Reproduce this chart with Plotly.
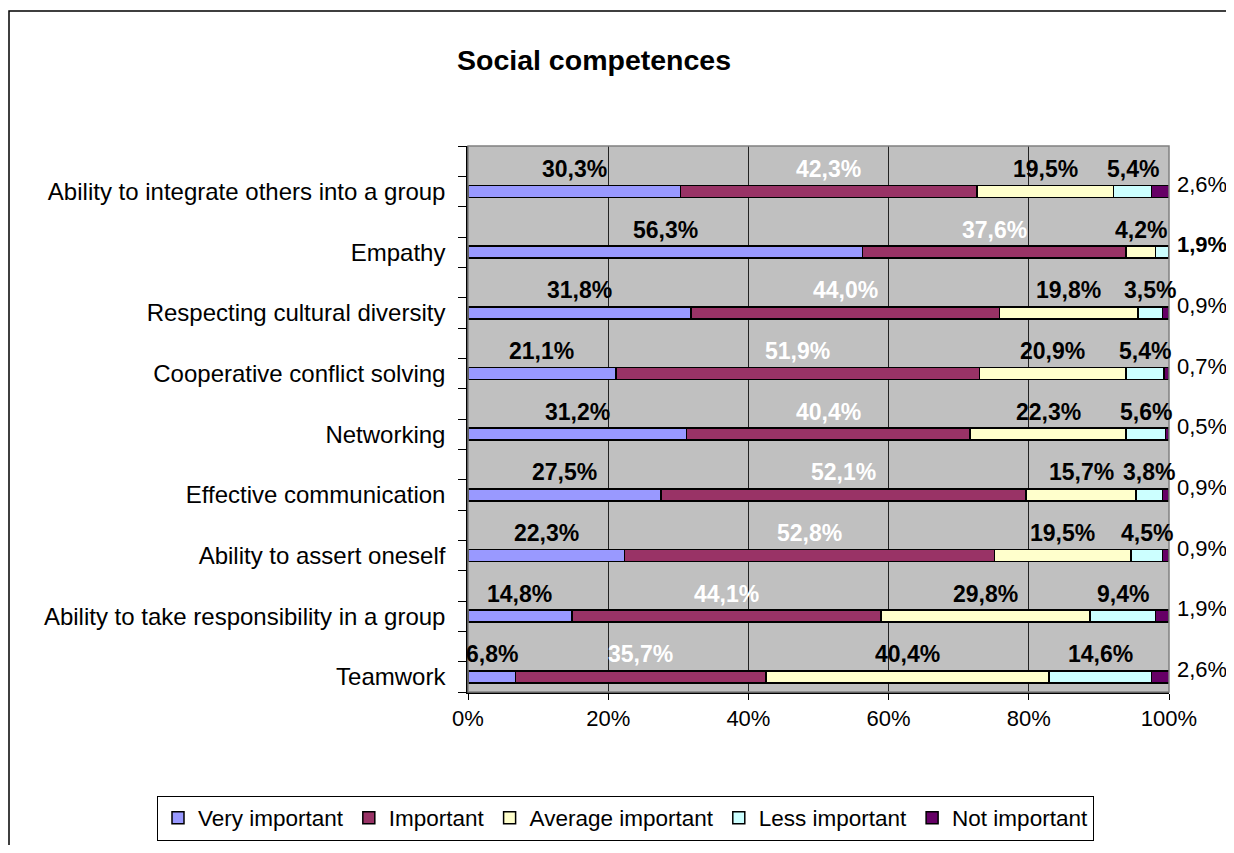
import plotly.graph_objects as go

# data, top row first
categories = [
    "Ability to integrate others into a group",
    "Empathy",
    "Respecting cultural diversity",
    "Cooperative conflict solving",
    "Networking",
    "Effective communication",
    "Ability to assert oneself",
    "Ability to take responsibility in a group",
    "Teamwork",
]
very_important = [30.3, 56.3, 31.8, 21.1, 31.2, 27.5, 22.3, 14.8, 6.8]
important = [42.3, 37.6, 44.0, 51.9, 40.4, 52.1, 52.8, 44.1, 35.7]
average_important = [19.5, 4.2, 19.8, 20.9, 22.3, 15.7, 19.5, 29.8, 40.4]
less_important = [5.4, 1.9, 3.5, 5.4, 5.6, 3.8, 4.5, 9.4, 14.6]
not_important = [2.6, 0.0, 0.9, 0.7, 0.5, 0.9, 0.9, 1.9, 2.6]

series_names = [
    "Very important",
    "Important",
    "Average important",
    "Less important",
    "Not important",
]
series_values = [
    very_important,
    important,
    average_important,
    less_important,
    not_important,
]
series_colors = ["#9999FF", "#993366", "#FFFFCC", "#CCFFFF", "#660066"]
label_colors = ["black", "white", "black", "black", "black"]
x_ticks = [0, 20, 40, 60, 80, 100]

FONT = "Arial, Liberation Sans, sans-serif"

# the page body adds an 8px margin, so the figure is drawn 8px in
# and kept small enough not to overflow the window
OFF = 8
W, H = 1234 - 2 * OFF, 853 - 2 * OFF
# plot area in screen pixels: x 468..1169, y 146..692
L, T = 468 - OFF, 146 - OFF
PW, PH = 701, 546
R, B = W - L - PW, H - T - PH

positions = list(range(len(categories)))


def px_to_paper_x(px):
    return (px - OFF - L) / PW


def px_to_paper_y(py):
    return (T + PH - (py - OFF)) / PH


def fmt(v):
    return f"{v:.1f}%".replace(".", ",")


fig = go.Figure()
for name, vals, color in zip(series_names, series_values, series_colors):
    fig.add_trace(
        go.Bar(
            name=name,
            x=vals,
            y=positions,
            orientation="h",
            width=0.2,
            marker=dict(color=color, line=dict(color="black", width=1.5)),
            hoverinfo="x+name",
        )
    )

annotations = []
for i, pos in enumerate(positions):
    left = 0.0
    for k, vals in enumerate(series_values):
        v = vals[i]
        if v > 0:
            bold = k != len(series_values) - 1
            if v < 3:
                # small shares are written to the right of the plot area
                annotations.append(
                    dict(
                        x=1.0,
                        y=pos - 0.12,
                        xref="paper",
                        yref="y",
                        xshift=6,
                        text=fmt(v),
                        showarrow=False,
                        xanchor="left",
                        yanchor="middle",
                        font=dict(
                            family=FONT,
                            size=22,
                            color="black",
                            weight="bold" if bold else "normal",
                        ),
                    )
                )
            else:
                annotations.append(
                    dict(
                        x=left + v / 2,
                        y=pos - 0.37,
                        xref="x",
                        yref="y",
                        text=fmt(v),
                        showarrow=False,
                        xanchor="center",
                        yanchor="middle",
                        font=dict(
                            family=FONT,
                            size=23,
                            color=label_colors[k],
                            weight="bold",
                        ),
                    )
                )
        left += v

# Title
annotations.append(
    dict(
        xref="paper",
        yref="paper",
        x=px_to_paper_x(594),
        y=px_to_paper_y(60),
        xanchor="center",
        yanchor="middle",
        text="Social competences",
        showarrow=False,
        font=dict(family=FONT, size=28.5, color="black", weight="bold"),
    )
)

shapes = [
    # outer chart border (runs off the right and bottom)
    dict(
        type="rect",
        xref="paper",
        yref="paper",
        x0=px_to_paper_x(OFF + 1),
        y0=px_to_paper_y(H + 60),
        x1=px_to_paper_x(W + 60),
        y1=px_to_paper_y(11),
        line=dict(color="black", width=1.5),
        layer="below",
    ),
    # plot area outline
    dict(
        type="rect",
        xref="paper",
        yref="paper",
        x0=0,
        y0=0,
        x1=1,
        y1=1,
        line=dict(color="#808080", width=1.5),
        layer="above",
    ),
]

fig.update_layout(
    width=W,
    height=H,
    barmode="stack",
    paper_bgcolor="white",
    plot_bgcolor="#C0C0C0",
    margin=dict(l=L, r=R, t=T, b=B, autoexpand=False),
    annotations=annotations,
    shapes=shapes,
    showlegend=True,
    legend=dict(
        orientation="h",
        x=px_to_paper_x(157),
        y=px_to_paper_y(818),
        xanchor="left",
        yanchor="middle",
        bordercolor="black",
        borderwidth=1,
        font=dict(family=FONT, size=22.5, color="black"),
        traceorder="normal",
        itemwidth=30,
    ),
    font=dict(family=FONT, color="black"),
)
fig.update_xaxes(
    range=[0, 100],
    tickvals=x_ticks,
    ticktext=[f"{t}%" for t in x_ticks],
    showgrid=True,
    gridcolor="#222222",
    gridwidth=1,
    zeroline=False,
    showline=True,
    linecolor="black",
    linewidth=1.5,
    ticks="outside",
    ticklen=6,
    tickcolor="black",
    tickfont=dict(family=FONT, size=22, color="black"),
)
fig.update_yaxes(
    range=[len(categories) - 0.75, -0.75],
    tickvals=positions,
    ticktext=categories,
    ticks="",
    showgrid=False,
    zeroline=False,
    showline=True,
    linecolor="black",
    linewidth=1.5,
    ticklabelstandoff=16,
    tickfont=dict(family=FONT, size=24, color="black"),
    minor=dict(
        tickvals=[p + d for p in positions for d in (-0.75, -0.25)]
        + [len(categories) - 0.75],
        ticks="outside",
        ticklen=8,
        tickcolor="black",
        showgrid=False,
    ),
)

fig.write_html("out.html")
